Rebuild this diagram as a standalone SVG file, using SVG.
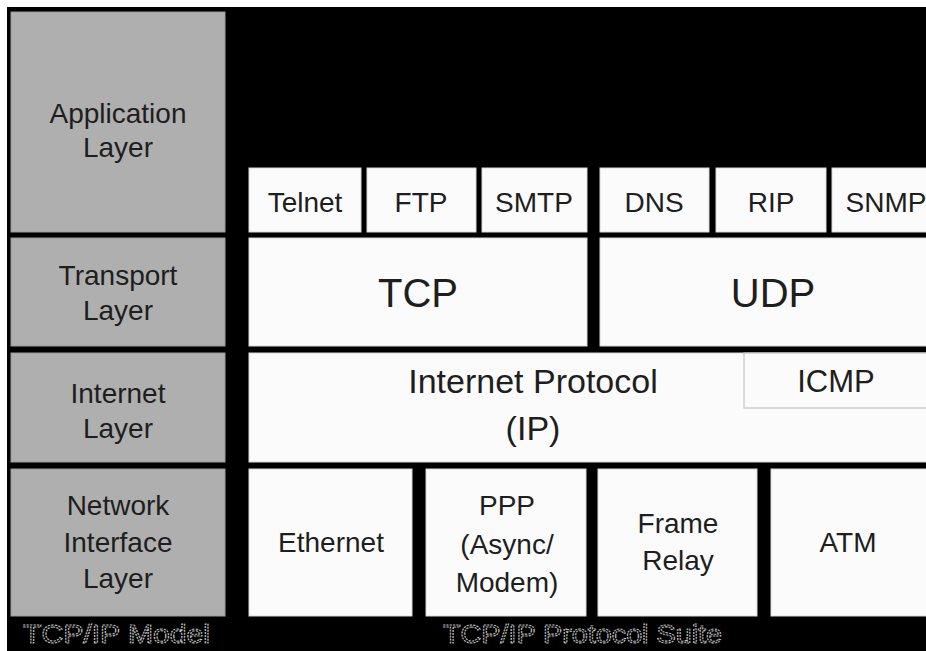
<svg xmlns="http://www.w3.org/2000/svg" width="926" height="651" viewBox="0 0 926 651">
<style>
.layer{fill:#afafaf;stroke:#9a9a9a;stroke-width:1}
.box{fill:#fbfbfb;stroke:#d8d8d8;stroke-width:1}
.t{font-family:"Liberation Sans",Arial,sans-serif;fill:#1e1e1e;text-anchor:middle}
.s28{font-size:28px}
.s40{font-size:40px}
.s34{font-size:34px}
.foot{font-family:"Liberation Sans",Arial,sans-serif;font-size:26px;fill:#000;stroke:#bdbdbd;stroke-width:1.1;stroke-dasharray:2 1}
</style>
<rect x="0" y="0" width="926" height="651" fill="#ffffff"/>
<rect x="7" y="7" width="919" height="644" fill="#000000"/>

<g id="app-layer"><rect class="layer" x="11" y="12" width="214" height="220"/><text class="t s28" x="118" y="123">Application</text><text class="t s28" x="118" y="157">Layer</text></g>
<g id="transport-layer"><rect class="layer" x="11" y="238" width="214" height="108"/><text class="t s28" x="118" y="285">Transport</text><text class="t s28" x="118" y="320">Layer</text></g>
<g id="internet-layer"><rect class="layer" x="11" y="353" width="214" height="109"/><text class="t s28" x="118" y="403">Internet</text><text class="t s28" x="118" y="438">Layer</text></g>
<g id="network-layer"><rect class="layer" x="11" y="469" width="214" height="147"/><text class="t s28" x="118" y="515">Network</text><text class="t s28" x="118" y="552">Interface</text><text class="t s28" x="118" y="588">Layer</text></g>

<g id="telnet"><rect class="box" x="249" y="168" width="112" height="64"/><text class="t s28" x="305" y="212">Telnet</text></g>
<g id="ftp"><rect class="box" x="367" y="168" width="109" height="64"/><text class="t s28" x="421" y="212">FTP</text></g>
<g id="smtp"><rect class="box" x="482" y="168" width="105" height="64"/><text class="t s28" x="534" y="212">SMTP</text></g>
<g id="dns"><rect class="box" x="600" y="168" width="109" height="64"/><text class="t s28" x="654" y="212">DNS</text></g>
<g id="rip"><rect class="box" x="716" y="168" width="110" height="64"/><text class="t s28" x="771" y="212">RIP</text></g>
<g id="snmp"><rect class="box" x="832" y="168" width="100" height="64"/><text class="t s28" x="886" y="212">SNMP</text></g>

<g id="tcp"><rect class="box" x="249" y="238" width="338" height="108"/><text class="t s40" x="418" y="307">TCP</text></g>
<g id="udp"><rect class="box" x="600" y="238" width="332" height="108"/><text class="t s40" x="773" y="307">UDP</text></g>

<g id="ip"><rect class="box" x="249" y="353" width="683" height="109"/><text class="t s34" x="533" y="393">Internet Protocol</text><text class="t s34" x="533" y="440">(IP)</text></g>
<g id="icmp"><rect x="744" y="353" width="188" height="55" fill="#fbfbfb" stroke="#c4c4c4" stroke-width="1.2"/><text class="t" style="font-size:31px" x="836" y="392">ICMP</text></g>

<g id="ethernet"><rect class="box" x="249" y="469" width="163" height="147"/><text class="t s28" x="331" y="552">Ethernet</text></g>
<g id="ppp"><rect class="box" x="426" y="469" width="160" height="147"/><text class="t s28" x="507" y="515">PPP</text><text class="t s28" x="507" y="554">(Async/</text><text class="t s28" x="507" y="592">Modem)</text></g>
<g id="frame-relay"><rect class="box" x="598" y="469" width="159" height="147"/><text class="t s28" x="678" y="533">Frame</text><text class="t s28" x="678" y="570">Relay</text></g>
<g id="atm"><rect class="box" x="771" y="469" width="161" height="147"/><text class="t s28" x="848" y="552">ATM</text></g>

<g id="connectors"></g>

<g id="captions">
<text class="foot" x="23" y="643" textLength="187" lengthAdjust="spacingAndGlyphs">TCP/IP Model</text>
<text class="foot" x="443" y="643" textLength="279" lengthAdjust="spacingAndGlyphs">TCP/IP Protocol Suite</text>
</g>
</svg>
